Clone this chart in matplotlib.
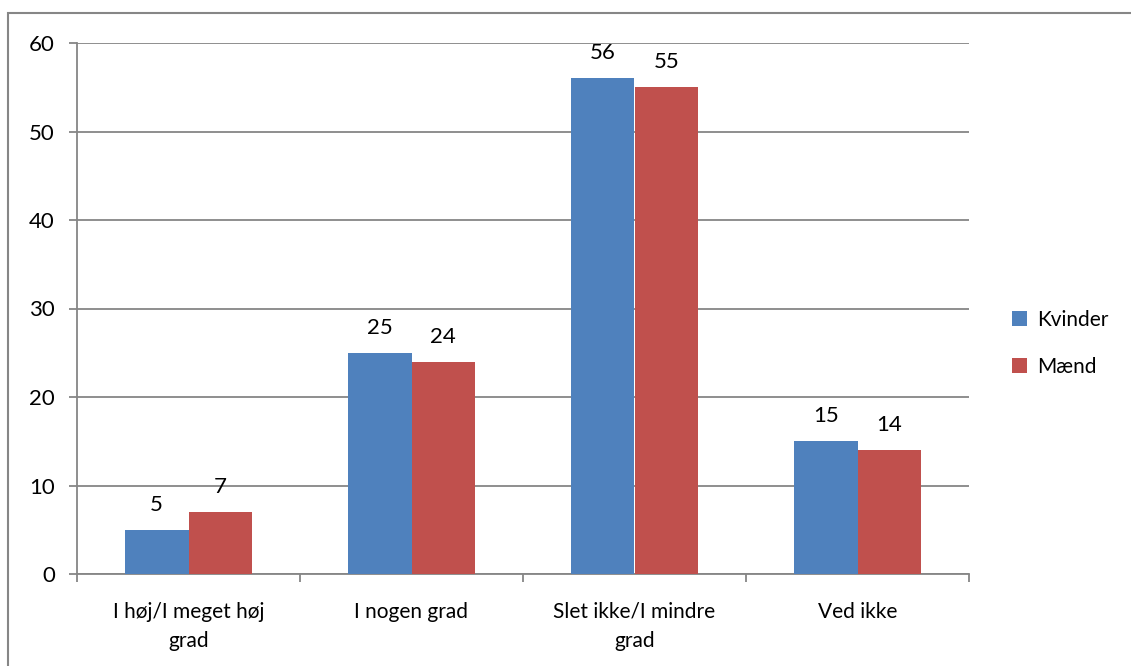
import matplotlib.pyplot as plt
import numpy as np
from matplotlib.patches import Rectangle

categories = ['I høj/I meget høj\ngrad', 'I nogen grad', 'Slet ikke/I mindre\ngrad', 'Ved ikke']
kvinder = [5, 25, 56, 15]
maend = [7, 24, 55, 14]
series_names = ['Kvinder', 'Mænd']

blue = '#4F81BD'
red = '#C0504D'
grey = '#868686'
fs = 15
fs_num = 16

plt.rcParams['font.family'] = ['Lato', 'DejaVu Sans']

fig = plt.figure(figsize=(11.31, 6.66), dpi=100)
ax = fig.add_axes([77 / 1131, 1 - 574 / 666, (969 - 77) / 1131, (574 - 43) / 666])

# outer chart frame (runs off the right and bottom edge)
fig.patches.append(Rectangle((8 / 1131, -0.05), 1.1, (666 - 13) / 666 + 0.05,
                             transform=fig.transFigure, fill=False,
                             edgecolor=grey, linewidth=1.5, clip_on=False))

x = np.arange(len(categories))
w = 0.285
b1 = ax.bar(x - w / 2, kvinder, w, color=blue, label=series_names[0], zorder=3)
b2 = ax.bar(x + w / 2, maend, w, color=red, label=series_names[1], zorder=3)

for bars, vals in ((b1, kvinder), (b2, maend)):
    for bar, v in zip(bars, vals):
        ax.text(bar.get_x() + bar.get_width() / 2, v + 1.7, str(v),
                ha='center', va='bottom', fontsize=fs_num, color='black')

ax.set_xlim(-0.5, len(categories) - 0.5)
ax.set_ylim(0, 60)
ax.set_yticks(range(0, 61, 10))
ax.yaxis.grid(True, color=grey, linewidth=1.3, zorder=0)
ax.set_axisbelow(True)

ax.set_xticks(x)
ax.set_xticklabels(categories, fontsize=fs, linespacing=1.6)
ax.set_xticks(np.arange(-0.5, len(categories)), minor=True)
ax.tick_params(axis='x', which='major', length=0, pad=20)
ax.tick_params(axis='x', which='minor', length=6, color=grey, width=1.3)
ax.tick_params(axis='y', length=6, color=grey, width=1.3, labelsize=fs_num, pad=10)

for side in ('top', 'right'):
    ax.spines[side].set_visible(False)
for side in ('left', 'bottom'):
    ax.spines[side].set_color(grey)
    ax.spines[side].set_linewidth(1.3)

ax.legend(loc='center left', bbox_to_anchor=(1.027, 0.434), frameon=False,
          fontsize=fs, handlelength=0.75, handleheight=0.75, labelspacing=1.3,
          handletextpad=0.45)

fig.savefig('out.png', dpi=100)
